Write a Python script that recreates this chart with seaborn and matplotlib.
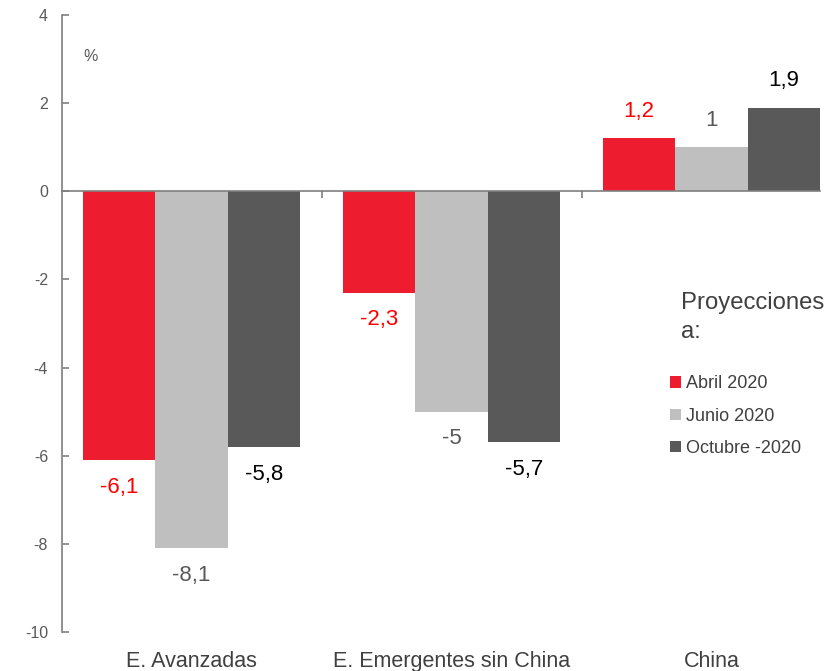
import pandas as pd
import matplotlib.pyplot as plt
import seaborn as sns
from matplotlib.patches import Patch

# Data
categories = ['E. Avanzadas', 'E. Emergentes sin China', 'China']
series = ['Abril 2020', 'Junio 2020', 'Octubre -2020']
abril = [-6.1, -2.3, 1.2]
junio = [-8.1, -5.0, 1.0]
octubre = [-5.8, -5.7, 1.9]

bar_colors = ['#ED1C2E', '#BFBFBF', '#595959']
label_colors = ['#FF0000', '#595959', '#000000']

df = pd.DataFrame({
    'region': categories * 3,
    'serie': [s for s in series for _ in categories],
    'valor': abril + junio + octubre,
})

sns.set_style('white')
plt.rcParams['font.family'] = ['Liberation Sans', 'DejaVu Sans']

fig = plt.figure(figsize=(8.28, 6.71), dpi=100)
ax = fig.add_axes([62 / 828, 1 - 632 / 671, (820 - 62) / 828, (632 - 15) / 671])

sns.barplot(data=df, x='region', y='valor', hue='serie', order=categories,
            hue_order=series, palette=bar_colors, width=0.835, gap=0,
            linewidth=0, saturation=1, legend=False, ax=ax)

# Bar labels
for cont, col in zip(ax.containers, label_colors):
    labs = [f'{v.get_height():g}'.replace('.', ',') for v in cont]
    ax.bar_label(cont, labels=labs, padding=12, color=col, fontsize=16)

ax.set_xlim(-0.498, 2.417)
ax.set_ylim(-10, 4)
ax.set_yticks(range(-10, 5, 2))
ax.set_yticklabels([str(t) for t in range(-10, 5, 2)], fontsize=11.5, color='#595959')
ax.tick_params(axis='y', left=True, direction='in', length=5, width=1.2,
               color='#7F7F7F', pad=10)

# x axis at zero with ticks between groups
ax.spines['bottom'].set_position(('data', 0))
ax.set_xticks([0.5, 1.5])
ax.set_xticklabels([])
ax.tick_params(axis='x', bottom=True, direction='out', length=5, width=1.2,
               color='#7F7F7F')
for sp in ['top', 'right']:
    ax.spines[sp].set_visible(False)
for sp in ['left', 'bottom']:
    ax.spines[sp].set_color('#7F7F7F')
    ax.spines[sp].set_linewidth(1.2)
ax.set_xlabel('')
ax.set_ylabel('')

# Category labels at the bottom
for i, c in enumerate(categories):
    ax.text(i, -10.68, c, ha='center', va='center', fontsize=15.5, color='#404040')

ax.text(0.028, 0.933, '%', transform=ax.transAxes, fontsize=11.5, color='#595959',
        ha='left', va='center')

# Legend
fig.text(681 / 828, 1 - 303 / 671, 'Proyecciones', fontsize=17.2, color='#404040',
         ha='left', va='center')
fig.text(681 / 828, 1 - 332 / 671, 'a:', fontsize=17.2, color='#404040',
         ha='left', va='center')
handles = [Patch(facecolor=c, edgecolor='none') for c in bar_colors]
fig.legend(handles, series, loc='upper left', bbox_to_anchor=(654 / 828, 1 - 359 / 671),
           frameon=False, fontsize=13, handlelength=0.6, handleheight=0.6,
           handletextpad=0.25, labelspacing=0.85, labelcolor='#404040')

plt.savefig('out.png', dpi=100)
